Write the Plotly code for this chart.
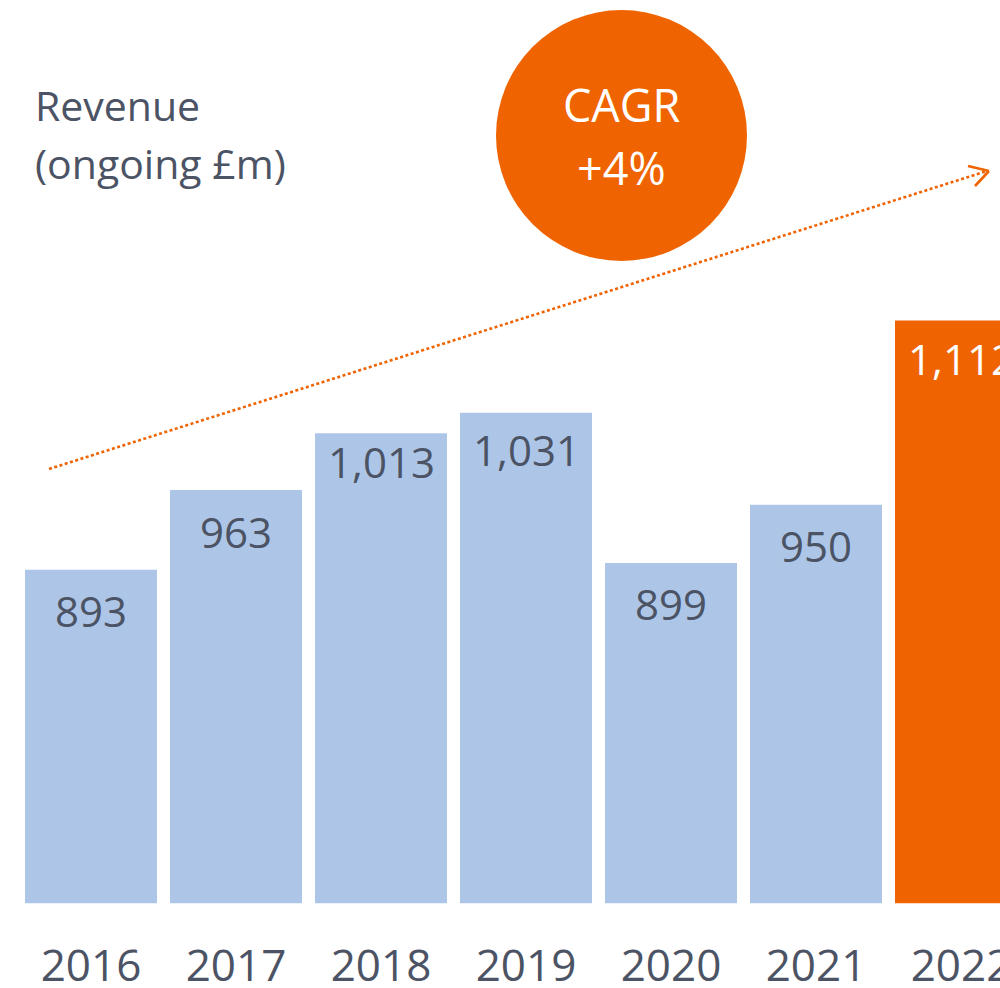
import plotly.graph_objects as go

years = ["2016", "2017", "2018", "2019", "2020", "2021", "2022"]
revenue = [893, 963, 1013, 1031, 899, 950, 1112]
value_labels = ["893", "963", "1,013", "1,031", "899", "950", "1,112"]
highlight = [False, False, False, False, False, False, True]

title_lines = ["Revenue", "(ongoing £m)"]
cagr_lines = ["CAGR", "+4%"]

BLUE = "#adc6e7"
ORANGE = "#ef6400"
TEXT = "#4b5364"
FONT = "Open Sans"

W, H = 1000, 988


def px(x):
    return x / W


def py(y):
    return 1 - y / H


BASE = 903.3          # screen y of bar baseline
SCALE = 1.1384        # px per £m
Y0 = 600

# how far below each bar top its value label sits (style, px)
LABEL_DROP_DEFAULT = 41
LABEL_DROP = {"2018": 28, "2019": 37, "2022": 38}

bar_colors = [ORANGE if h else BLUE for h in highlight]

fig = go.Figure()
fig.add_trace(go.Bar(
    x=years, y=revenue, marker=dict(color=bar_colors, line=dict(width=0)),
    hoverinfo="x+y", showlegend=False,
))

annotations = []
for i, (yr, v, lab, h) in enumerate(zip(years, revenue, value_labels, highlight)):
    annotations.append(dict(
        x=i, y=v, xref="x", yref="y", text=lab, showarrow=False,
        yanchor="middle", xanchor="center",
        yshift=-LABEL_DROP.get(yr, LABEL_DROP_DEFAULT),
        font=dict(family=FONT, size=42, color="white" if h else TEXT),
    ))

for line, top in zip(title_lines, [75, 133]):
    annotations.append(dict(
        x=px(33), y=py(top), xref="paper", yref="paper", xanchor="left", yanchor="top",
        text=line, align="left", showarrow=False,
        font=dict(family=FONT, size=41, color=TEXT),
    ))

for line, mid in zip(cagr_lines, [104, 167]):
    annotations.append(dict(
        x=px(621.5), y=py(mid), xref="paper", yref="paper", xanchor="center", yanchor="middle",
        text=line, showarrow=False, font=dict(family=FONT, size=45, color="white"),
    ))

shapes = [
    dict(type="circle", xref="paper", yref="paper",
         x0=px(496), x1=px(747), y0=py(261), y1=py(10),
         fillcolor=ORANGE, line=dict(width=0), layer="below"),
    dict(type="line", xref="paper", yref="paper",
         x0=px(49), y0=py(469), x1=px(987), y1=py(171),
         line=dict(color=ORANGE, width=2.6, dash="3px,2.5px")),
    dict(type="line", xref="paper", yref="paper",
         x0=px(968), y0=py(166), x1=px(989), y1=py(171),
         line=dict(color=ORANGE, width=2.6)),
    dict(type="line", xref="paper", yref="paper",
         x0=px(975), y0=py(186), x1=px(989), y1=py(171),
         line=dict(color=ORANGE, width=2.6)),
]

fig.update_layout(
    width=W, height=H,
    margin=dict(l=0, r=0, t=0, b=0, autoexpand=False),
    paper_bgcolor="white", plot_bgcolor="white",
    bargap=1 - 132 / 145,
    xaxis=dict(
        type="category", range=[-91 / 145, (1000 - 91) / 145],
        showgrid=False, zeroline=False, showline=False, ticks="",
        tickfont=dict(family=FONT, size=44, color=TEXT),
        ticklabelstandoff=33, automargin=False, fixedrange=True,
    ),
    yaxis=dict(
        domain=[1 - BASE / H, 1], range=[Y0, Y0 + BASE / SCALE],
        showgrid=False, zeroline=False, showline=False, showticklabels=False,
        ticks="", automargin=False, fixedrange=True,
    ),
    annotations=annotations,
    shapes=shapes,
    showlegend=False,
)

# remove the browser's default 8px body margin so the figure fills the window exactly
fig.write_html(
    "out.html",
    config={"displayModeBar": False},
    post_script="document.body.style.margin='0';",
)
